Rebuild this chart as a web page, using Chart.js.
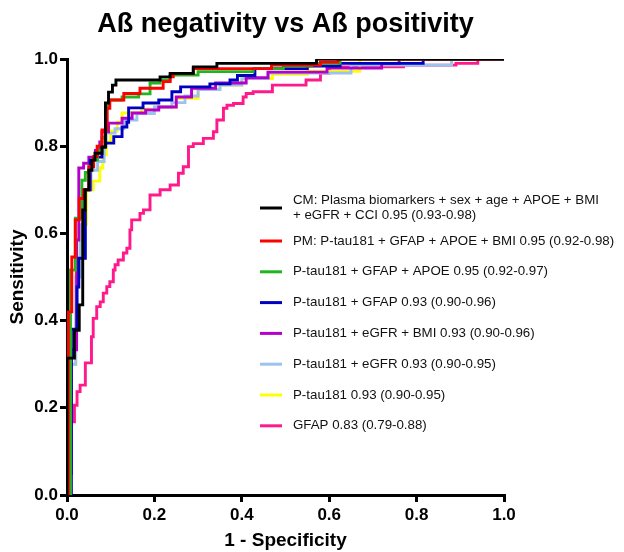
<!DOCTYPE html>
<html>
<head>
<meta charset="utf-8">
<script src="https://cdn.jsdelivr.net/npm/chart.js@4.4.1/dist/chart.umd.min.js"></script>
<style>
  html, body { margin: 0; padding: 0; background: #ffffff; }
  #wrap { width: 624px; height: 552px; position: relative; }
</style>
</head>
<body>
<div id="wrap"><canvas id="c" width="624" height="552"></canvas></div>
<script>
// ---------- Data ----------
const chartTitle = "A\u00DF negativity vs A\u00DF positivity";
const xAxisTitle = "1 - Specificity";
const yAxisTitle = "Sensitivity";
const tickValues = [0.0, 0.2, 0.4, 0.6, 0.8, 1.0];

const seriesNames = [
  ["CM: Plasma biomarkers + sex + age + APOE + BMI", "+ eGFR + CCI 0.95 (0.93-0.98)"],
  ["PM: P-tau181 + GFAP + APOE + BMI 0.95 (0.92-0.98)"],
  ["P-tau181 + GFAP + APOE 0.95 (0.92-0.97)"],
  ["P-tau181 + GFAP 0.93 (0.90-0.96)"],
  ["P-tau181 + eGFR + BMI 0.93 (0.90-0.96)"],
  ["P-tau181 + eGFR 0.93 (0.90-0.95)"],
  ["P-tau181 0.93 (0.90-0.95)"],
  ["GFAP 0.83 (0.79-0.88)"]
];
const seriesColors = ["#000000", "#FF0000", "#22B522", "#0000C0", "#B400C8", "#9CC3EE", "#FFFF00", "#FF1A8C"];

const fprCM = [0, 0, 0.017, 0.028, 0.036, 0.041, 0.050, 0.057, 0.064, 0.080, 0.088, 0.095, 0.104, 0.112, 0.213, 0.236, 0.289, 0.343, 0.571, 1.0];
const tprCM = [0, 0.314, 0.378, 0.436, 0.654, 0.700, 0.745, 0.768, 0.784, 0.798, 0.899, 0.924, 0.940, 0.952, 0.959, 0.967, 0.982, 0.990, 1.0, 1.0];

const fprPM = [0, 0.003, 0.011, 0.019, 0.028, 0.038, 0.050, 0.061, 0.069, 0.080, 0.092, 0.098, 0.130, 0.167, 0.220, 0.236, 0.243, 0.289, 0.468, 0.580, 0.620, 1.0];
const tprPM = [0, 0.420, 0.546, 0.631, 0.680, 0.700, 0.753, 0.776, 0.800, 0.837, 0.887, 0.906, 0.921, 0.933, 0.948, 0.959, 0.967, 0.978, 0.986, 0.993, 1.0, 1.0];

const fprGfapApoe = [0, 0.008, 0.019, 0.034, 0.042, 0.050, 0.060, 0.070, 0.080, 0.088, 0.095, 0.126, 0.164, 0.190, 0.213, 0.236, 0.300, 0.426, 0.495, 0.560, 0.625, 1.0];
const tprGfapApoe = [0, 0.516, 0.635, 0.722, 0.740, 0.753, 0.768, 0.790, 0.820, 0.890, 0.906, 0.913, 0.920, 0.945, 0.952, 0.963, 0.971, 0.978, 0.984, 0.990, 1.0, 1.0];

const fprGfap2 = [0, 0.010, 0.023, 0.027, 0.042, 0.053, 0.061, 0.080, 0.088, 0.107, 0.126, 0.137, 0.141, 0.174, 0.210, 0.240, 0.260, 0.327, 0.373, 0.390, 0.430, 0.550, 0.625, 0.815, 1.0];
const tprGfap2 = [0, 0.380, 0.477, 0.543, 0.700, 0.768, 0.775, 0.798, 0.807, 0.822, 0.844, 0.855, 0.888, 0.899, 0.906, 0.925, 0.936, 0.943, 0.952, 0.962, 0.978, 0.984, 0.990, 1.0, 1.0];

const fprEgfrBmi = [0.010, 0.010, 0.022, 0.027, 0.038, 0.050, 0.065, 0.075, 0.080, 0.095, 0.126, 0.149, 0.180, 0.210, 0.250, 0.285, 0.340, 0.410, 0.460, 0.595, 0.720, 0.760, 1.0];
const tprEgfrBmi = [0.046, 0.333, 0.585, 0.750, 0.761, 0.775, 0.790, 0.810, 0.833, 0.853, 0.864, 0.876, 0.883, 0.890, 0.913, 0.933, 0.945, 0.957, 0.970, 0.979, 0.990, 1.0, 1.0];

const fprEgfr = [0, 0.008, 0.020, 0.030, 0.040, 0.055, 0.070, 0.085, 0.090, 0.110, 0.130, 0.160, 0.200, 0.240, 0.270, 0.300, 0.350, 0.400, 0.460, 0.650, 0.880, 1.0];
const tprEgfr = [0, 0.300, 0.500, 0.620, 0.700, 0.745, 0.765, 0.800, 0.830, 0.840, 0.860, 0.875, 0.890, 0.900, 0.915, 0.930, 0.940, 0.955, 0.968, 0.986, 1.0, 1.0];

const fprPtau = [0, 0.008, 0.020, 0.035, 0.045, 0.060, 0.075, 0.082, 0.090, 0.100, 0.115, 0.126, 0.170, 0.200, 0.250, 0.300, 0.350, 0.400, 0.470, 0.550, 0.670, 1.0];
const tprPtau = [0, 0.300, 0.520, 0.620, 0.700, 0.720, 0.750, 0.780, 0.810, 0.835, 0.855, 0.876, 0.885, 0.890, 0.910, 0.930, 0.940, 0.955, 0.965, 0.972, 1.0, 1.0];

const fprGfap = [0, 0, 0.017, 0.023, 0.030, 0.042, 0.056, 0.060, 0.068, 0.076, 0.083, 0.091, 0.098, 0.106, 0.110, 0.117, 0.129, 0.137, 0.144, 0.148, 0.167, 0.175, 0.190, 0.213, 0.236, 0.255, 0.266, 0.278, 0.289, 0.312, 0.335, 0.343, 0.358, 0.366, 0.381, 0.403, 0.410, 0.426, 0.470, 0.547, 0.580, 0.600, 0.770, 0.890, 0.940, 1.0];
const tprGfap = [0, 0.168, 0.206, 0.237, 0.252, 0.303, 0.363, 0.405, 0.432, 0.443, 0.463, 0.478, 0.489, 0.516, 0.528, 0.539, 0.555, 0.566, 0.608, 0.631, 0.646, 0.654, 0.688, 0.700, 0.711, 0.738, 0.753, 0.799, 0.806, 0.818, 0.833, 0.860, 0.887, 0.894, 0.898, 0.913, 0.921, 0.925, 0.940, 0.952, 0.968, 0.982, 0.986, 0.990, 1.0, 1.0];

const seriesFpr = [fprCM, fprPM, fprGfapApoe, fprGfap2, fprEgfrBmi, fprEgfr, fprPtau, fprGfap];
const seriesTpr = [tprCM, tprPM, tprGfapApoe, tprGfap2, tprEgfrBmi, tprEgfr, tprPtau, tprGfap];

// ---------- Build chart ----------
const FONT = "'Liberation Sans', Arial, Helvetica, sans-serif";

const datasets = seriesNames.map((name, i) => ({
  label: name.join(' '),
  data: seriesFpr[i].map((x, k) => ({ x: x, y: seriesTpr[i][k] })),
  borderColor: seriesColors[i],
  backgroundColor: seriesColors[i],
  borderWidth: 2.9,
  pointRadius: 0,
  showLine: true,
  stepped: 'before',
  fill: false
}));

const overlayPlugin = {
  id: 'overlay',
  afterDraw(chart) {
    const ctx = chart.ctx;
    const area = chart.chartArea;
    ctx.save();
    // Title
    ctx.fillStyle = '#000';
    ctx.font = "bold 27px " + FONT;
    ctx.textAlign = 'center';
    ctx.textBaseline = 'middle';
    ctx.fillText(chartTitle, (area.left + area.right) / 2, 25);

    // Legend
    ctx.font = "13.3px " + FONT;
    ctx.textAlign = 'left';
    ctx.textBaseline = 'middle';
    const sampleX0 = 260, sampleX1 = 282, textX = 293;
    let y;
    chart.data.datasets.forEach((ds, i) => {
      const lines = seriesNames[i];
      if (i === 0) { y = 208; } else { y = 241 + (i - 1) * 30.8; }
      ctx.strokeStyle = ds.borderColor;
      ctx.lineWidth = 3;
      ctx.beginPath();
      ctx.moveTo(sampleX0, y);
      ctx.lineTo(sampleX1, y);
      ctx.stroke();
      ctx.fillStyle = '#111';
      if (lines.length === 2) {
        ctx.fillText(lines[0], textX, y - 7.5);
        ctx.fillText(lines[1], textX, y + 7.5);
      } else {
        ctx.fillText(lines[0], textX, y);
      }
    });
    ctx.restore();
  }
};

const axisCommon = (titleText, isY) => ({
  type: 'linear',
  min: 0,
  max: 1,
  z: 1,
  afterBuildTicks: (scale) => { scale.ticks = tickValues.map(v => ({ value: v })); },
  afterFit: (scale) => {
    if (isY) { scale.width = 67; } else { scale.height = 57; }
  },
  ticks: {
    color: '#000',
    font: { family: FONT, size: 17, weight: 'bold' },
    padding: isY ? 2 : 3,
    callback: (v) => Number(v).toFixed(1),
    maxRotation: 0,
    autoSkip: false
  },
  grid: {
    display: true,
    drawOnChartArea: false,
    drawTicks: true,
    tickLength: 7,
    tickWidth: 3,
    tickColor: '#000',
    color: '#000',
    lineWidth: 3
  },
  border: { display: true, color: '#000', width: 3 },
  title: {
    display: true,
    text: titleText,
    color: '#000',
    font: { family: FONT, size: 19, weight: 'bold' },
    padding: isY ? { top: 6, bottom: 0 } : { top: 0, bottom: 0 }
  }
});

new Chart(document.getElementById('c'), {
  type: 'scatter',
  data: { datasets: datasets },
  options: {
    responsive: false,
    animation: false,
    devicePixelRatio: 1,
    layout: { padding: { left: 0, top: 59, right: 120, bottom: 0 } },
    plugins: {
      legend: { display: false },
      title: { display: false },
      tooltip: { enabled: false }
    },
    scales: {
      x: axisCommon(xAxisTitle, false),
      y: axisCommon(yAxisTitle, true)
    }
  },
  plugins: [overlayPlugin]
});
</script>
</body>
</html>
